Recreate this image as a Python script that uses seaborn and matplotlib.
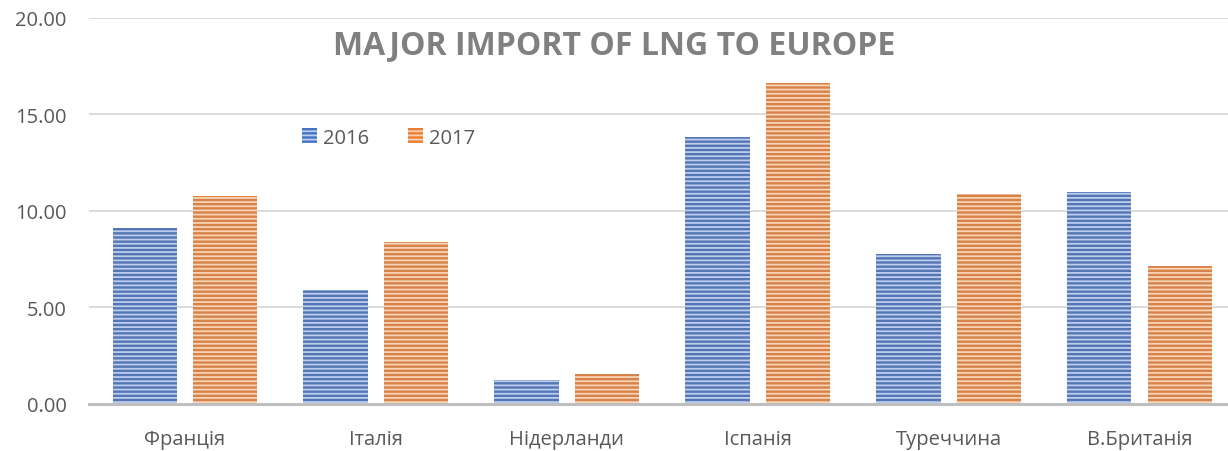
import matplotlib
matplotlib.use("Agg")
import matplotlib.pyplot as plt
from matplotlib.patches import Patch
import pandas as pd
import seaborn as sns

# dados
countries = ["Франція", "Італія", "Нідерланди", "Іспанія", "Туреччина", "В.Британія"]
years = ["2016", "2017"]
import_2016 = [9.12, 5.90, 1.24, 13.83, 7.77, 10.98]
import_2017 = [10.78, 8.39, 1.55, 16.63, 10.88, 7.15]

colors = ["#4472C4", "#ED7D31"]
stripes = ["#bccdee", "#f9d3b5"]

sns.set_theme(style="white")
plt.rcParams["font.family"] = ["Open Sans", "DejaVu Sans"]
plt.rcParams["hatch.linewidth"] = 1.3


def main():
    df = pd.DataFrame({
        "country": countries * 2,
        "year": [years[0]] * len(countries) + [years[1]] * len(countries),
        "value": import_2016 + import_2017,
    })

    fig = plt.figure(figsize=(12.28, 4.52), dpi=100)
    ax = fig.add_axes([0.0725, 0.104, 0.9332, 0.854])

    sns.barplot(data=df, x="country", y="value", hue="year", palette=colors,
                width=0.838, gap=0.2, hatch="----", legend=False, ax=ax,
                errorbar=None)

    for container, light in zip(ax.containers, stripes):
        for bar in container:
            bar.set_edgecolor(light)
            bar.set_linewidth(0)

    ax.set_ylim(0, 20)
    ax.set_xlim(-0.5, 5.5)
    ax.set_yticks([0, 5, 10, 15, 20])
    ax.set_yticklabels([f"{v:.2f}" for v in [0, 5, 10, 15, 20]])
    ax.yaxis.grid(True, color="#d9d9d9", linewidth=1.3)
    ax.set_axisbelow(True)
    for side in ["left", "right", "top"]:
        ax.spines[side].set_visible(False)
    ax.spines["bottom"].set_color("#bfbfbf")
    ax.spines["bottom"].set_linewidth(2.2)
    ax.tick_params(axis="both", length=0, labelsize=14.5, colors="#595959")
    ax.tick_params(axis="x", pad=18)
    ax.tick_params(axis="y", pad=16)
    ax.set_xlabel("")
    ax.set_ylabel("")

    handles = [Patch(facecolor=c, edgecolor=l, hatch="----", linewidth=0)
               for c, l in zip(colors, stripes)]
    leg = ax.legend(handles, years, loc="center left", bbox_to_anchor=(0.17, 0.69),
                    ncol=2, frameon=False, fontsize=14.5, handlelength=0.75,
                    handleheight=0.75, handletextpad=0.3, columnspacing=1.9)
    for t in leg.get_texts():
        t.set_color("#595959")

    fig.text(0.5, 0.9, "MAJOR IMPORT OF LNG TO EUROPE", ha="center", va="center",
             fontsize=23, fontweight="bold", color="#808080")

    fig.savefig("out.png", dpi=100)
    plt.close(fig)


if __name__ == "__main__":
    main()
